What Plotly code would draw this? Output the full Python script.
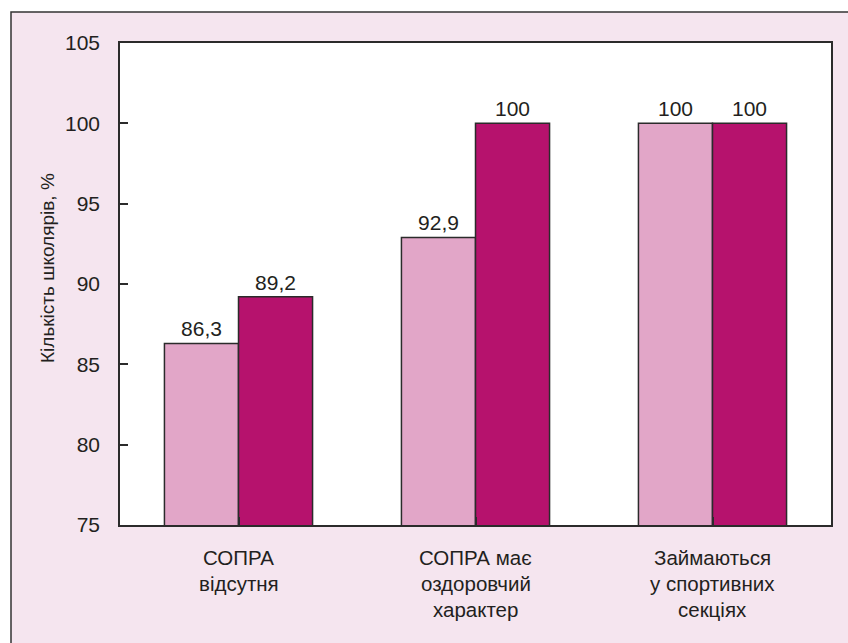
import plotly.graph_objects as go

# Survey data: share of schoolchildren, %
categories = ["СОПРА<br>відсутня", "СОПРА має<br>оздоровчий<br>характер", "Займаються<br>у спортивних<br>секціях"]
series_a = [86.3, 92.9, 100]
series_b = [89.2, 100, 100]
y_ticks = [75, 80, 85, 90, 95, 100, 105]
y_title = "Кількість школярів, %"

FONT = "Liberation Sans, Arial, sans-serif"
TEXT_COLOR = "#231f20"
EDGE = "#2b2b2b"

W, H = 848, 643
ML, MR, MT, MB = 120, 17, 43, 118
pw, ph = W - ML - MR, H - MT - MB


def fmt(v):
    s = f"{v:.1f}".rstrip("0").rstrip(".")
    return s.replace(".", ",")


def font(size):
    return dict(family=FONT, size=size, color=TEXT_COLOR)


fig = go.Figure()
for vals, color in ((series_a, "#e2a6c8"), (series_b, "#b6126d")):
    fig.add_trace(go.Bar(
        x=list(range(len(categories))),
        y=vals,
        base=0,
        marker=dict(color=color, line=dict(color=EDGE, width=1.5)),
        text=[fmt(v) for v in vals],
        textposition="outside",
        textfont=font(21),
        cliponaxis=False,
        hoverinfo="skip",
    ))


def px_to_paper_x(px):
    return (px - ML) / pw


def px_to_paper_y(py):
    return (H - MB - py) / ph


# pink panel with a dark frame behind the chart
shapes = [
    dict(type="rect", xref="paper", yref="paper", layer="below",
         x0=px_to_paper_x(11), x1=px_to_paper_x(W + 20),
         y0=px_to_paper_y(H + 20), y1=px_to_paper_y(12),
         fillcolor="#f5e5ef", line=dict(color="#333333", width=1.5)),
    dict(type="rect", xref="paper", yref="paper", layer="below",
         x0=0, x1=1, y0=0, y1=1, fillcolor="white", line=dict(width=0)),
]

# multi-line category labels under the axis with tight leading
annotations = []
for i, cat in enumerate(categories):
    for j, line in enumerate(cat.split("<br>")):
        annotations.append(dict(
            x=i, y=0, xref="x", yref="paper", text=line, showarrow=False,
            yanchor="top", yshift=-19 - 26 * j,
            font=font(20.5),
        ))

# rotated y-axis title
annotations.append(dict(
    x=px_to_paper_x(47), y=px_to_paper_y(268), xref="paper", yref="paper",
    text=y_title, textangle=-90, showarrow=False,
    xanchor="center", yanchor="middle", font=font(19),
))

fig.update_layout(
    width=W, height=H,
    margin=dict(l=ML, r=MR, t=MT, b=MB),
    paper_bgcolor="white",
    plot_bgcolor="white",
    barmode="group",
    bargap=0.375,
    bargroupgap=0,
    showlegend=False,
    shapes=shapes,
    annotations=annotations,
    font=font(21),
)
fig.update_xaxes(
    range=[-0.5, len(categories) - 0.5],
    tickvals=list(range(len(categories))),
    ticktext=[""] * len(categories),
    tickson="boundaries",
    ticks="inside", ticklen=8, tickwidth=1.5, tickcolor=EDGE,
    showline=True, linecolor=EDGE, linewidth=1.5, mirror=True,
    showgrid=False, zeroline=False, fixedrange=True,
)
fig.update_yaxes(
    range=[75, 105],
    tickvals=y_ticks,
    ticks="inside", ticklen=8, tickwidth=1.5, tickcolor=EDGE,
    showline=True, linecolor=EDGE, linewidth=1.5, mirror=True,
    showgrid=False, zeroline=False, fixedrange=True,
    tickfont=font(21),
    ticklabelstandoff=14,
)

fig.write_html("out.html", config={"displayModeBar": False})
